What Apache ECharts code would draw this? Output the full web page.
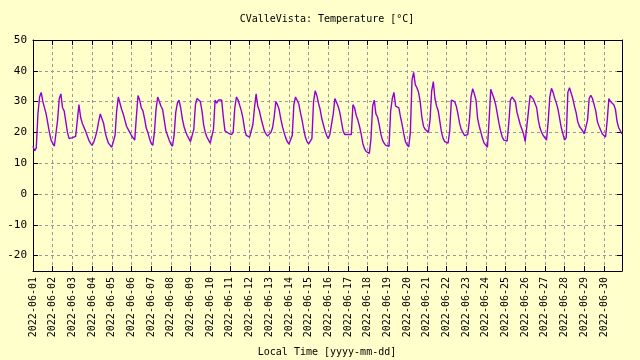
<!DOCTYPE html>
<html>
<head>
<meta charset="utf-8">
<script src="https://cdn.jsdelivr.net/npm/echarts@6/dist/echarts.min.js"></script>
<style>
html,body{margin:0;padding:0;background:#ffffcc;}
#chart{width:640px;height:360px;}
</style>
</head>
<body>
<div id="chart"></div>
<script>
const titleText = 'CValleVista: Temperature [°C]';
const xAxisTitle = 'Local Time [yyyy-mm-dd]';
const dayLabels = [
  '2022-06-01','2022-06-02','2022-06-03','2022-06-04','2022-06-05','2022-06-06',
  '2022-06-07','2022-06-08','2022-06-09','2022-06-10','2022-06-11','2022-06-12',
  '2022-06-13','2022-06-14','2022-06-15','2022-06-16','2022-06-17','2022-06-18',
  '2022-06-19','2022-06-20','2022-06-21','2022-06-22','2022-06-23','2022-06-24',
  '2022-06-25','2022-06-26','2022-06-27','2022-06-28','2022-06-29','2022-06-30'
];
const yTickValues = [-20, -10, 0, 10, 20, 30, 40, 50];
const yRange = [-25, 50];
const xRangeHours = [0, 718];
const stepHours = 2; // one reading every 2 hours from 2022-06-01 00:00
// temperatures, °C, 12 readings per day (00,02,...,22h)
const temps = [
  15.5,14,15,26,31.5,33,30,30,26,23,20,17.5,          // 06-01
  16.5,15.5,16,24,31,32.5,28,27,23.5,20,18,17.5,      // 06-02
  18.3,18.5,18.7,19,29,25,23,22.5,20.5,19,17.5,16.5,  // 06-03
  15.8,16.8,18.5,20.5,23.5,26,25.5,23,20,18,16.5,16.3,// 06-04
  15.2,15.5,19,27,31.5,31,27.5,26,24,22,21,20,        // 06-05
  19,18.5,17.5,25,32,30.5,28,27,24.5,21.5,20,18,      // 06-06
  16.5,15.8,20,27.5,31.5,30,28.5,27.5,24,20.5,19,17.5,// 06-07
  16.2,15.5,19,26.5,29.5,30.5,28,24.5,22,20.3,19,18,  // 06-08
  17,17.3,21,29,31,31.5,30,27,22.5,20,18.5,17.5,      // 06-09
  16.5,16.5,21,30.5,29.5,30.5,30.5,30.5,25,20.5,20,19.8, // 06-10
  20,19.3,20,28,31.5,30.5,30.5,27,24.5,21,19,19,      // 06-11
  18.5,19,22.5,28,32.5,28.5,27,24.5,22.5,20.5,19.5,18.8, // 06-12
  19.3,20,21.5,25,30,29,27.5,24.5,22,20,18.3,17,      // 06-13
  16.2,15.6,19,29,31.5,31,29.3,26.5,24,21,18.5,17,    // 06-14
  16.3,15.7,18,30,33.5,32,29.5,27.5,24.5,22.5,20.5,19,// 06-15
  18,19.5,20,26,31,30.5,28.5,26.5,23.5,20.5,19.3,19.3,// 06-16
  19.3,19.3,19.3,29,28,25.5,24,22,19.5,16.5,14.8,13.8,// 06-17
  13.5,13.2,18,28.5,30.5,26,25,22.5,19.5,17.5,16.5,15.8, // 06-18
  15.3,15.5,27,31,33,28.5,28.3,28,25,22.5,19.5,17,    // 06-19
  16,15.3,20,37,39.5,35.5,34.5,33,30,25,22,21,        // 06-20
  20.5,20,24,33.5,36.5,31,28.5,27,23.5,20,18,17,      // 06-21
  16.5,16.5,20.5,30.5,30.5,30,28.5,26,23,21,20,19,    // 06-22
  19.3,19.3,24,31.5,34.2,32.5,30.5,24.5,22,20,18,16.5,// 06-23
  16,15.2,24,34,32.5,31,29,26,23,20.5,18.5,17.5,      // 06-24
  17,17.2,23,30.5,31.5,31,30,26.5,24.5,22.5,21,19.5,  // 06-25
  17,17.5,27,32,32,30.8,30.5,28,24,21.5,20,19,        // 06-26
  18.5,17.5,23.5,31.5,34.3,33,31,29.5,27.5,24.5,21.5,19.5, // 06-27
  17.5,18.3,33,34.5,35,31,28.5,26.5,23.5,22,21.5,20.5,// 06-28
  19.5,19.3,24,31,32,31,30.5,27,23.5,22,21.5,19.5,    // 06-29
  19.3,18.5,24,31,30,29.5,29,27.5,23.5,21.5,20.5,19.5 // 06-30
];

const seriesData = temps.map((v, i) => [i * stepHours, v]);
const FONT = 'DejaVu Sans Mono';
const gridLine = {show: true, lineStyle: {color: '#999999', type: [3, 3], width: 1}};
const tickStyle = {show: true, inside: true, length: 5, lineStyle: {color: '#000', width: 1}};
const axisLineStyle = {show: true, onZero: false, lineStyle: {color: '#000', width: 1}};

const chart = echarts.init(document.getElementById('chart'), null, {renderer: 'canvas'});
chart.setOption({
  backgroundColor: '#ffffcc',
  animation: false,
  grid: {left: 33, right: 18, top: 40, bottom: 89, containLabel: false},
  graphic: [
    {type: 'text', x: 327, y: 19, style: {text: titleText, font: '10px ' + FONT, fill: '#000', align: 'center', verticalAlign: 'middle'}},
    {type: 'text', x: 327, y: 352, style: {text: xAxisTitle, font: '10px ' + FONT, fill: '#000', align: 'center', verticalAlign: 'middle'}}
  ],
  xAxis: [
    {
      type: 'value', position: 'bottom', min: xRangeHours[0], max: xRangeHours[1], interval: 24,
      axisLine: axisLineStyle, axisTick: tickStyle, splitLine: gridLine,
      axisLabel: {
        rotate: 90, margin: 6, fontFamily: FONT, fontSize: 10, color: '#000',
        showMaxLabel: false,
        formatter: v => (v % 24 === 0 && v / 24 < dayLabels.length) ? dayLabels[v / 24] : ''
      }
    },
    {
      type: 'value', position: 'top', min: xRangeHours[0], max: xRangeHours[1], interval: 24,
      axisLine: axisLineStyle, axisTick: tickStyle, splitLine: {show: false}, axisLabel: {show: false}
    }
  ],
  yAxis: [
    {
      type: 'value', position: 'left', min: yRange[0], max: yRange[1], minInterval: 10, maxInterval: 10, splitNumber: 8,
      axisLine: axisLineStyle, axisTick: tickStyle, splitLine: gridLine,
      axisLabel: {
        margin: 6, fontFamily: FONT, fontSize: 11, color: '#000', showMinLabel: false,
        formatter: v => yTickValues.includes(v) ? String(v) : ''
      }
    },
    {
      type: 'value', position: 'right', min: yRange[0], max: yRange[1], minInterval: 10, maxInterval: 10, splitNumber: 8,
      axisLine: axisLineStyle, axisTick: tickStyle, splitLine: {show: false}, axisLabel: {show: false}
    }
  ],
  series: [{
    name: 'CValleVista', type: 'line', data: seriesData, showSymbol: false, symbol: 'none',
    lineStyle: {color: '#9400d3', width: 1.4}, itemStyle: {color: '#9400d3'}, z: 5
  }]
});
</script>
</body>
</html>
